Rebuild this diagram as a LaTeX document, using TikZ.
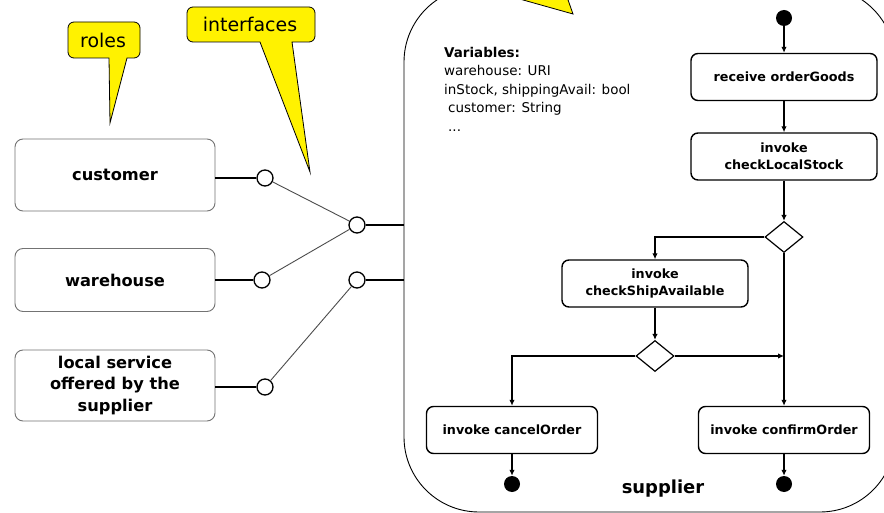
\documentclass[tikz,border=0pt]{standalone}
\usepackage{fontspec}
\setmainfont{DejaVu Sans}
\usetikzlibrary{shapes.geometric,arrows.meta}
\tikzset{
 rolebox/.style={draw=black!55, line width=0.9bp, rounded corners=8bp, minimum width=200bp, inner sep=0, align=center, font=\fontsize{16.3}{22}\selectfont\bfseries},
 actbox/.style={draw, line width=1.4bp, rounded corners=7bp, minimum width=186bp, minimum height=47bp, inner sep=0, align=center, font=\fontsize{12.8}{17.5}\selectfont\bfseries},
 port/.style={circle, draw, line width=1.3bp, fill=white, minimum size=16bp, inner sep=0},
 choice/.style={diamond, draw, line width=1.2bp, minimum width=38bp, minimum height=31bp, inner sep=0, aspect=1.25},
 dot/.style={circle, fill=black, minimum size=16bp, inner sep=0},
 flow/.style={line width=2bp, -{Latex[length=6bp,width=5.5bp]}},
 wire/.style={line width=2bp},
 link/.style={line width=0.9bp, draw=black!70},
 callout/.style={draw=black, line width=0.8bp, fill=yellow},
 note/.style={font=\fontsize{19}{22}\selectfont}
}
\begin{document}
\begin{tikzpicture}[x=1bp,y=-1bp]
\useasboundingbox (0,0) rectangle (884,513);
\fill[white] (0,0) rectangle (884,513);
% container
\node[draw, line width=0.9bp, rounded corners=75bp, minimum width=491bp, minimum height=525bp, inner sep=0] (sup) at (649.5,249.5) {};
% callouts
\draw[callout] (127,58) [rounded corners=6bp] -- (140,58) -- (140,22) -- (68,22) -- (68,58) [sharp corners] -- (109,58) -- (110,123) -- cycle;
\node[note] (roles) at (103,40) {roles};
\draw[callout] (292,42) [rounded corners=6bp] -- (315,42) -- (315,7) -- (187,7) -- (187,42) [sharp corners] -- (260,42) -- (310,172) -- cycle;
\node[note] (ifaces) at (250,24) {interfaces};
\draw[callout] (452,-20) -- (573,14) -- (561,-20) -- cycle;
% roles
\node[rolebox, minimum height=72bp] (cust) at (115,175) {customer};
\node[rolebox, minimum height=63bp] (ware) at (115,280) {warehouse};
\node[rolebox, minimum height=71bp] (local) at (115,385.5) {local service\\offered by the\\supplier};
% ports
\node[port] (c1) at (265,178) {};
\node[port] (c2) at (262,280) {};
\node[port] (c3) at (265,387) {};
\node[port] (m1) at (357,225) {};
\node[port] (m2) at (357,280) {};
\draw[wire] (cust.east |- c1) -- (c1);
\draw[wire] (ware.east |- c2) -- (c2);
\draw[wire] (local.east |- c3) -- (c3);
\draw[link] (c1) -- (m1);
\draw[link] (c2) -- (m1);
\draw[link] (c3) -- (m2);
\draw[wire] (m1) -- (m1 -| sup.west);
\draw[wire] (m2) -- (m2 -| sup.west);
% variables
\node[anchor=north west, inner sep=0, align=left, font=\fontsize{13.5}{18.5}\selectfont] (vars) at (444,47) {\textbf{Variables:}\\warehouse: URI\\inStock, shippingAvail: bool\\\hspace*{4bp}customer: String\\\hspace*{4bp}...};
% flow
\node[dot] (start) at (784,18) {};
\node[actbox] (recv) at (784,77) {receive orderGoods};
\node[actbox] (check) at (784,156.5) {invoke\\checkLocalStock};
\node[choice] (d1) at (784,237) {};
\node[actbox] (ship) at (655,283.5) {invoke\\checkShipAvailable};
\node[choice] (d2) at (655,356) {};
\node[actbox, minimum width=171bp] (cancel) at (512,430) {invoke cancelOrder};
\node[actbox, minimum width=171bp] (confirm) at (784,430) {invoke confirmOrder};
\node[dot] (end1) at (512,484) {};
\node[dot] (end2) at (784,484) {};
\node[font=\fontsize{18}{20}\selectfont\bfseries] (suplabel) at (663,489) {supplier};
\draw[flow] (start) -- (recv);
\draw[flow] (recv) -- (check);
\draw[flow] (check) -- (d1);
\draw[flow] (d1.west) -| (ship.north);
\draw[flow] (d1.south) -- (confirm.north);
\draw[flow] (ship) -- (d2);
\draw[flow] (d2.west) -| (cancel.north);
\coordinate (join) at (d1.south |- d2.east);
\draw[flow] (d2.east) -- (join);
\draw[flow] (cancel) -- (end1);
\draw[flow] (confirm) -- (end2);
\end{tikzpicture}
\end{document}
